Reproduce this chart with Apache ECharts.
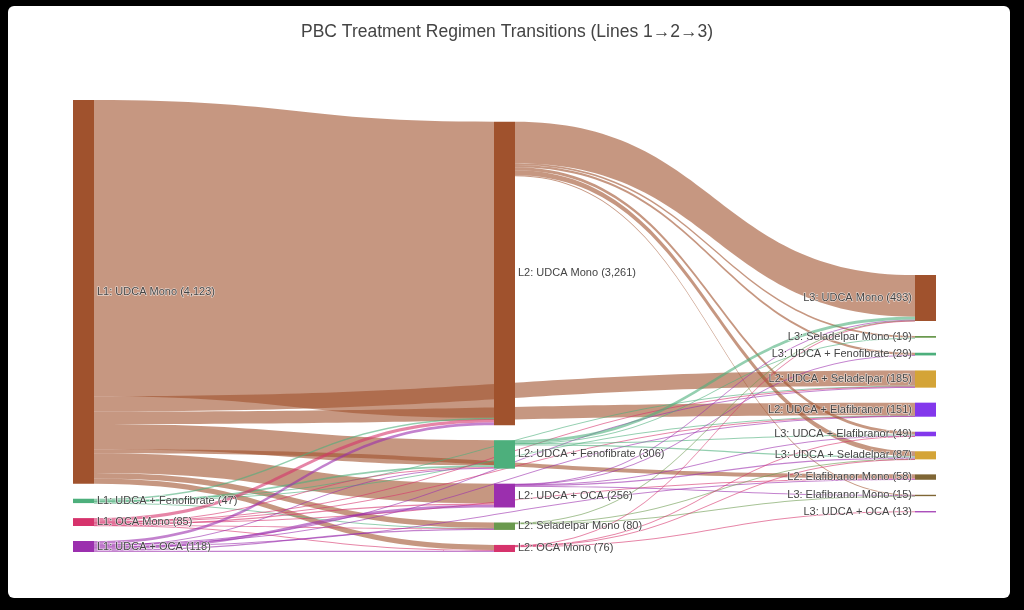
<!DOCTYPE html>
<html>
<head>
<meta charset="utf-8">
<title>PBC Treatment Regimen Transitions</title>
<script src="https://cdn.jsdelivr.net/npm/echarts@6/dist/echarts.min.js"></script>
<style>
  html, body { margin: 0; padding: 0; background: #000; }
  #frame { position: absolute; left: 8px; top: 6px; width: 1002px; height: 592px; background: #fff; border-radius: 6px; }
  #chart { position: absolute; left: 0; top: 0; width: 1024px; height: 610px; }
</style>
</head>
<body>
<div id="frame"></div>
<div id="chart"></div>
<script>
// nodes, in the order they are stacked
const nodeNames = [
  "L1: UDCA Mono", "L1: UDCA + Fenofibrate", "L1: OCA Mono", "L1: UDCA + OCA",
  "L2: UDCA Mono", "L2: UDCA + Fenofibrate", "L2: UDCA + OCA", "L2: Seladelpar Mono", "L2: OCA Mono",
  "L3: UDCA Mono", "L3: Seladelpar Mono", "L3: UDCA + Fenofibrate",
  "L2: UDCA + Seladelpar", "L2: UDCA + Elafibranor",
  "L3: UDCA + Elafibranor", "L3: UDCA + Seladelpar",
  "L2: Elafibranor Mono", "L3: Elafibranor Mono", "L3: UDCA + OCA"
];

// links (source -> target : patients)
const linkSources = [
  "L1: UDCA Mono", "L1: UDCA Mono", "L1: UDCA Mono", "L1: UDCA Mono", "L1: UDCA Mono", "L1: UDCA Mono", "L1: UDCA Mono", "L1: UDCA Mono",
  "L1: UDCA + Fenofibrate", "L1: UDCA + Fenofibrate", "L1: UDCA + Fenofibrate", "L1: UDCA + Fenofibrate", "L1: UDCA + Fenofibrate",
  "L1: OCA Mono", "L1: OCA Mono", "L1: OCA Mono", "L1: OCA Mono", "L1: OCA Mono", "L1: OCA Mono", "L1: OCA Mono", "L1: OCA Mono",
  "L1: UDCA + OCA", "L1: UDCA + OCA", "L1: UDCA + OCA", "L1: UDCA + OCA", "L1: UDCA + OCA", "L1: UDCA + OCA", "L1: UDCA + OCA", "L1: UDCA + OCA",
  "L2: UDCA Mono", "L2: UDCA Mono", "L2: UDCA Mono", "L2: UDCA Mono", "L2: UDCA Mono", "L2: UDCA Mono",
  "L2: UDCA + Fenofibrate", "L2: UDCA + Fenofibrate", "L2: UDCA + Fenofibrate", "L2: UDCA + Fenofibrate",
  "L2: UDCA + OCA", "L2: UDCA + OCA", "L2: UDCA + OCA", "L2: UDCA + OCA", "L2: UDCA + OCA",
  "L2: Seladelpar Mono", "L2: Seladelpar Mono", "L2: Seladelpar Mono",
  "L2: OCA Mono", "L2: OCA Mono", "L2: OCA Mono", "L2: OCA Mono"
];
const linkTargets = [
  "L2: UDCA Mono", "L2: UDCA + Seladelpar", "L2: UDCA + Elafibranor", "L2: UDCA + Fenofibrate", "L2: UDCA + OCA", "L2: Seladelpar Mono", "L2: OCA Mono", "L2: Elafibranor Mono",
  "L2: UDCA Mono", "L2: UDCA + Fenofibrate", "L2: UDCA + Seladelpar", "L2: UDCA + Elafibranor", "L2: Seladelpar Mono",
  "L2: UDCA Mono", "L2: UDCA + OCA", "L2: UDCA + Fenofibrate", "L2: UDCA + Seladelpar", "L2: UDCA + Elafibranor", "L2: Seladelpar Mono", "L2: OCA Mono", "L2: Elafibranor Mono",
  "L2: UDCA Mono", "L2: UDCA + OCA", "L2: UDCA + Fenofibrate", "L2: UDCA + Seladelpar", "L2: UDCA + Elafibranor", "L2: Seladelpar Mono", "L2: OCA Mono", "L2: Elafibranor Mono",
  "L3: UDCA Mono", "L3: Seladelpar Mono", "L3: UDCA + Fenofibrate", "L3: UDCA + Elafibranor", "L3: UDCA + Seladelpar", "L3: Elafibranor Mono",
  "L3: UDCA Mono", "L3: Seladelpar Mono", "L3: UDCA + Elafibranor", "L3: UDCA + Seladelpar",
  "L3: UDCA Mono", "L3: UDCA + Fenofibrate", "L3: UDCA + Elafibranor", "L3: UDCA + Seladelpar", "L3: Elafibranor Mono",
  "L3: UDCA Mono", "L3: UDCA + Seladelpar", "L3: Elafibranor Mono",
  "L3: UDCA Mono", "L3: UDCA + Elafibranor", "L3: UDCA + Seladelpar", "L3: UDCA + OCA"
];
const linkValues = [
  3182, 165, 135, 270, 213, 60, 55, 43,
  16, 18, 5, 4, 4,
  33, 14, 8, 7, 5, 3, 7, 8,
  30, 29, 10, 8, 7, 13, 14, 7,
  448, 18, 25, 31, 53, 4,
  31, 1, 11, 14,
  5, 4, 4, 13, 6,
  4, 4, 5,
  5, 3, 3, 13
];

const regimenColors = {
  "UDCA Mono": "#A0522D",
  "UDCA + Fenofibrate": "#4DAF7C",
  "OCA Mono": "#D6336C",
  "UDCA + OCA": "#9B2FAE",
  "Seladelpar Mono": "#6A994E",
  "UDCA + Seladelpar": "#D4A437",
  "UDCA + Elafibranor": "#8338EC",
  "Elafibranor Mono": "#7F6635"
};

// totals per node = max(inflow, outflow)
const inflow = {}, outflow = {};
linkValues.forEach(function (v, i) {
  outflow[linkSources[i]] = (outflow[linkSources[i]] || 0) + v;
  inflow[linkTargets[i]] = (inflow[linkTargets[i]] || 0) + v;
});

const nodes = nodeNames.map(function (name) {
  const regimen = name.split(": ")[1];
  const total = Math.max(inflow[name] || 0, outflow[name] || 0);
  const isSink = !outflow[name];
  return {
    name: name,
    itemStyle: { color: regimenColors[regimen] },
    label: {
      position: isSink ? "left" : "right",
      formatter: name + " (" + total.toLocaleString("en-US") + ")"
    }
  };
});

const links = linkValues.map(function (v, i) {
  return { source: linkSources[i], target: linkTargets[i], value: v };
});

const chart = echarts.init(document.getElementById("chart"));
chart.setOption({
  backgroundColor: "transparent",
  title: {
    text: "PBC Treatment Regimen Transitions (Lines 1\u21922\u21923)",
    left: 296,
    top: 18,
    textStyle: { fontFamily: "Liberation Sans", fontSize: 17.5, fontWeight: "normal", color: "#444" }
  },
  series: [{
    type: "sankey",
    left: 73,
    right: 88,
    top: 100,
    bottom: 58,
    nodeWidth: 21,
    nodeGap: 15,
    nodeAlign: "justify",
    draggable: false,
    emphasis: { disabled: true },
    data: nodes,
    links: links,
    itemStyle: { borderWidth: 0 },
    lineStyle: { color: "source", opacity: 0.6, curveness: 0.5 },
    label: {
      fontFamily: "Liberation Sans",
      fontSize: 11,
      color: "#444",
      distance: 3,
      textBorderColor: "rgba(255,255,255,0.8)",
      textBorderWidth: 1
    }
  }]
});
</script>
</body>
</html>
